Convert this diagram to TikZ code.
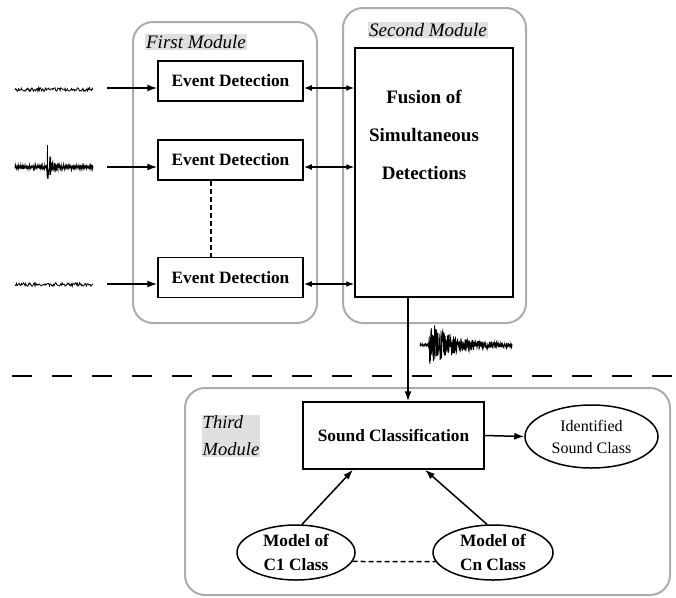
\documentclass[tikz,border=0pt]{standalone}
\usepackage{fontspec}
\setmainfont{Liberation Serif}
\usetikzlibrary{arrows.meta,shapes.geometric}
\tikzset{
  module/.style={draw=gray!65, line width=2pt, rounded corners=20pt, inner sep=0pt},
  blk/.style={draw, line width=1.5pt, inner sep=0pt, font=\bfseries\fontsize{17.3}{20}\selectfont},
  modlabel/.style={fill=gray!25, inner sep=1pt, font=\itshape\fontsize{19}{20}\selectfont},
  oval/.style={draw, ellipse, line width=1.5pt, inner sep=0pt, align=center},
  arr/.style={line width=1.5pt, -{Latex[length=10pt,width=7pt]}},
  dbl/.style={line width=1.5pt, {Latex[length=8pt,width=6pt]}-{Latex[length=8pt,width=6pt]}},
  wave/.style={line width=0.8pt},
}
\begin{document}
\begin{tikzpicture}[x=1pt,y=-1pt]
\useasboundingbox (0,0) rectangle (676,597);
% modules
\node[module, minimum width=184pt, minimum height=301pt] (m1) at (225,172.5) {};
\node[module, minimum width=183pt, minimum height=315pt] (m2) at (434.5,165.5) {};
\node[module, minimum width=485pt, minimum height=207pt] (m3) at (427.5,491.5) {};
\node[modlabel] (l1) at (196,42) {First Module};
\node[modlabel] (l2) at (428,30) {Second Module};
\node[modlabel, align=left, font=\itshape\fontsize{18.5}{27}\selectfont] (l3) at (231,436) {Third\\Module};
% first module
\node[blk, minimum width=145pt, minimum height=40pt] (ed1) at (230.5,81) {Event Detection};
\node[blk, minimum width=145pt, minimum height=40pt] (ed2) at (230.5,160) {Event Detection};
\node[blk, minimum width=145pt, minimum height=40pt] (ed3) at (230.5,277.5) {Event Detection};
\draw[line width=1.5pt, dash pattern=on 5pt off 3pt] ([xshift=-19.5pt]ed2.south) -- ([xshift=-19.5pt]ed3.north);
% second module
\node[blk, minimum width=158pt, minimum height=249pt] (fus) at (434,172.5) {};
\node[font=\bfseries\fontsize{19}{38}\selectfont, align=center] (fustxt) at (424,134.5) {Fusion of\\Simultaneous\\Detections};
% inputs
\coordinate (in1) at (107,88);
\coordinate (in2) at (107,167);
\coordinate (in3) at (107,284);
\draw[arr] (in1) -- (in1 -| ed1.west);
\draw[arr] (in2) -- (in2 -| ed2.west);
\draw[arr] (in3) -- (in3 -| ed3.west);
\draw[dbl] (in1 -| ed1.east) -- (in1 -| fus.west);
\draw[dbl] (in2 -| ed2.east) -- (in2 -| fus.west);
\draw[dbl] (in3 -| ed3.east) -- (in3 -| fus.west);
% waveforms
\pgfmathsetseed{7}
\draw[wave] plot[domain=15:93, samples=110] (\x, {89.5 + 1.8*rand});
\draw[wave] plot[domain=15:93, samples=340] (\x, {167 + (1.8 + (\x>=47)*25*exp(-max(\x-47,0)/3.8))*rand});
\draw[wave] plot[domain=15:93, samples=110] (\x, {284.5 + 1.8*rand});
\draw[wave] plot[domain=420:512, samples=440] (\x, {345 + (1.2 + (\x>=429)*23*exp(-max(\x-429,0)/24))*rand});
% separator
\coordinate (sepL) at (12,376);
\coordinate (sepR) at (676,376);
\draw[line width=1.5pt, dash pattern=on 20pt off 20pt] (sepL) -- (sepR);
% third module
\node[blk, minimum width=181pt, minimum height=67pt] (sc) at (393.5,435.5) {Sound Classification};
\node[oval, minimum width=133pt, minimum height=63pt, font=\fontsize{16}{22}\selectfont] (id) at (591.5,436.5) {Identified\\Sound Class};
\node[oval, minimum width=118pt, minimum height=55pt, font=\bfseries\fontsize{17.3}{24}\selectfont] (c1) at (296,552.5) {Model of\\C1 Class};
\node[oval, minimum width=120pt, minimum height=55pt, font=\bfseries\fontsize{17.3}{24}\selectfont] (cn) at (493,552.5) {Model of\\Cn Class};
\coordinate (outx) at (408,0);
\draw[arr] (fus.south -| outx) -- (sc.north -| outx);
\draw[arr] (sc.east) -- (id.west);
\draw[arr] (c1.78) -- ([xshift=-40.5pt]sc.south);
\draw[arr] (cn.102) -- ([xshift=31.5pt]sc.south);
\draw[line width=1.5pt, dash pattern=on 5pt off 3pt] (c1.-9) -- (cn.189);
\end{tikzpicture}
\end{document}
